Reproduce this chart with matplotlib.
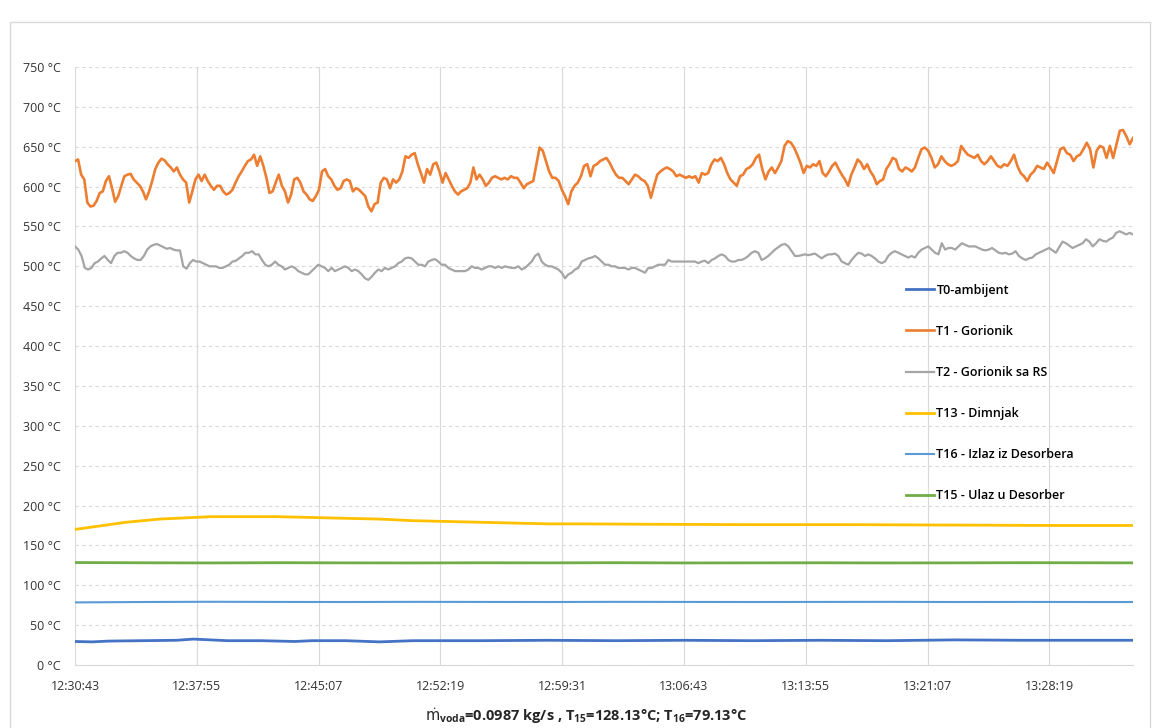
import numpy as np
import matplotlib
matplotlib.use("Agg")
from matplotlib import pyplot as plt
from matplotlib.patches import Rectangle

plt.rcParams['font.family'] = ['Open Sans', 'DejaVu Sans']
plt.rcParams['mathtext.default'] = 'regular'

# x axis: minutes after 12:30:43
tick_min = [0, 7.2, 14.4, 21.6, 28.8, 36.0, 43.2, 50.4, 57.6]
tick_labels = ["12:30:43", "12:37:55", "12:45:07", "12:52:19", "12:59:31",
               "13:06:43", "13:13:55", "13:21:07", "13:28:19"]
t_end = 62.54
# time borders of the read-off segments of the noisy series
seg_bounds = [0, 12.41, 24.83, 37.24, 49.65, 62.54]

# T1 - Gorionik, read in five pieces
t1_parts = [
    [632, 634, 615, 609, 580, 575, 576, 582, 592, 594, 607, 613, 598, 581, 588, 601, 613, 615,
     616, 609, 605, 601, 594, 584, 594, 607, 622, 630, 635, 633, 628, 624, 619, 624, 615, 609,
     605, 580, 594, 609, 615, 607, 615, 607, 601, 596, 601, 601, 594, 590, 592, 596, 605, 613,
     619, 626, 632, 634, 640, 626, 638, 626, 611, 592, 594, 605, 615, 601],
    [594, 580, 590, 609, 611, 605, 594, 590, 584, 582, 588, 596, 619, 622, 613, 609, 601, 596,
     598, 607, 609, 607, 594, 598, 596, 592, 588, 575, 569, 578, 580, 605, 611, 609, 598, 609,
     605, 609, 619, 638, 636, 640, 642, 628, 617, 605, 622, 615, 628, 630, 619, 605, 617, 609,
     601, 594, 590, 594, 596, 598, 605, 624, 609, 615, 609, 601, 605, 611],
    [613, 611, 609, 611, 609, 613, 611, 611, 605, 598, 603, 605, 607, 628, 649, 645, 632, 619,
     611, 611, 607, 596, 588, 578, 594, 601, 605, 613, 626, 628, 613, 626, 628, 632, 634, 636,
     630, 622, 615, 611, 611, 607, 603, 609, 615, 613, 609, 607, 601, 586, 601, 615, 619, 622,
     624, 622, 619, 613, 615, 613, 611, 613, 611, 613, 605, 617],
    [615, 617, 628, 634, 632, 636, 628, 617, 609, 605, 601, 613, 615, 622, 624, 628, 636, 640,
     622, 609, 619, 624, 617, 624, 632, 651, 657, 655, 649, 640, 630, 617, 626, 624, 628, 626,
     632, 617, 613, 619, 626, 630, 622, 615, 609, 601, 615, 624, 634, 630, 622, 628, 619, 613,
     603, 607, 609, 622, 628, 636, 634, 622, 619, 624, 622, 619],
    [624, 636, 647, 649, 645, 636, 624, 628, 638, 632, 628, 626, 628, 632, 651, 645, 640, 638,
     636, 640, 632, 628, 632, 638, 632, 626, 624, 628, 626, 632, 640, 626, 617, 613, 607, 615,
     619, 626, 624, 622, 630, 624, 617, 632, 647, 649, 642, 640, 632, 638, 640, 647, 655, 647,
     624, 645, 651, 649, 636, 651, 636, 653, 670, 671, 663, 653, 661],
]

# T2 - Gorionik sa RS
t2_parts = [
    [525, 521, 513, 498, 496, 498, 504, 506, 510, 513, 508, 504, 513, 517, 517, 519, 517, 513,
     510, 508, 508, 513, 521, 525, 527, 528, 526, 524, 522, 523, 521, 520, 520, 500, 497, 504,
     508, 506, 506, 504, 502, 500, 500, 500, 498, 498, 500, 502, 506, 507, 510, 513, 517, 517,
     519, 515, 515, 508, 502, 500, 502, 506, 502, 500],
    [496, 498, 500, 498, 494, 492, 490, 490, 494, 498, 502, 500, 498, 494, 498, 494, 496, 498,
     500, 498, 494, 496, 494, 490, 485, 483, 487, 492, 496, 494, 498, 496, 498, 500, 504, 506,
     510, 511, 510, 506, 502, 502, 500, 506, 508, 509, 506, 502, 502, 498, 496, 494, 494, 494,
     494, 496, 500, 498, 498, 496, 498, 500, 500],
    [498, 500, 498, 500, 499, 498, 498, 500, 496, 498, 502, 506, 513, 516, 506, 502, 500, 500,
     498, 496, 492, 485, 490, 492, 496, 498, 506, 508, 510, 511, 513, 510, 506, 502, 502, 500,
     500, 498, 498, 498, 496, 498, 498, 496, 494, 492, 498, 498, 500, 502, 502, 502, 508, 506,
     506, 506, 506, 506, 506, 506, 506, 504, 506],
    [507, 504, 508, 510, 513, 515, 513, 508, 506, 506, 508, 508, 510, 513, 517, 519, 517, 508,
     510, 513, 517, 521, 524, 527, 528, 525, 519, 513, 513, 514, 515, 514, 515, 516, 513, 510,
     513, 515, 515, 516, 513, 506, 504, 502, 508, 513, 517, 516, 513, 515, 513, 510, 506, 504,
     506, 513, 517, 519, 517, 515, 513, 511, 513],
    [511, 517, 521, 523, 525, 521, 517, 515, 529, 521, 523, 523, 521, 525, 529, 527, 525, 525,
     525, 523, 521, 520, 521, 523, 520, 517, 516, 517, 515, 516, 519, 513, 510, 508, 510, 511,
     515, 517, 519, 521, 523, 520, 517, 524, 531, 529, 526, 523, 525, 527, 529, 534, 531, 525,
     529, 534, 532, 531, 534, 536, 542, 544, 542, 540, 542, 540],
]

# T13 - Dimnjak
t13_min = [0, 1, 2, 3, 4, 5, 6, 7, 8, 10, 12, 14, 16, 18, 20, 22, 24, 26, 28, 30, 34,
           40, 46, 52, 58, 62.54]
t13_val = [170, 173, 176, 179, 181, 183, 184, 185, 186, 186, 186, 185, 184, 183, 181, 180,
           179, 178, 177, 177, 176.5, 176, 176, 175.5, 175, 175]

# T15 - Ulaz u Desorber, T16 - Izlaz iz Desorbera, T0 - ambijent
flat_min = [0, 4, 8, 12, 16, 20, 24, 28, 32, 36, 40, 44, 48, 52, 56, 60, 62.54]
t15_val = [128.5, 128.2, 128.0, 128.3, 128.1, 128.0, 128.2, 128.1, 128.3, 128.0, 128.1,
           128.2, 128.0, 128.1, 128.3, 128.2, 128.1]
t16_val = [78.5, 79.0, 79.3, 79.1, 79.0, 79.2, 79.1, 79.0, 79.2, 79.1, 79.0, 79.1, 79.2,
           79.0, 79.1, 79.0, 79.0]
t0_min = [0, 1, 2, 4, 6, 7, 8, 9, 11, 13, 14, 16, 18, 20, 24, 28, 32, 36, 40, 44, 48,
          52, 56, 60, 62.54]
t0_val = [29.5, 29.0, 30.0, 30.5, 31.0, 32.5, 31.5, 30.5, 30.5, 29.5, 30.5, 30.5, 29.0,
          30.5, 30.5, 31.0, 30.5, 31.0, 30.5, 31.0, 30.5, 31.5, 31.0, 31.0, 31.0]


def join_parts(parts, bounds):
    tt, vv = [], []
    for i, p in enumerate(parts):
        last = i == len(parts) - 1
        tt.append(np.linspace(bounds[i], bounds[i + 1], len(p), endpoint=last))
        vv.append(np.array(p, dtype=float))
    return np.concatenate(tt), np.concatenate(vv)


t1_t, t1_v = join_parts(t1_parts, seg_bounds)
t2_t, t2_v = join_parts(t2_parts, seg_bounds)

fig = plt.figure(figsize=(11.6, 7.28), dpi=100)
ax = fig.add_axes([75 / 1160, 1 - 665 / 728, 1058 / 1160, 598 / 728])

# outer frame like the excel chart area
fig.patches.append(Rectangle((10 / 1160, -0.05), 1140 / 1160, 1.05 - 22 / 728,
                             transform=fig.transFigure, fill=False,
                             edgecolor="#d9d9d9", lw=1))

ax.plot(t0_min, t0_val, color="#4472C4", lw=2.0, label="T0-ambijent")
ax.plot(t1_t, t1_v, color="#ED7D31", lw=1.9, label="T1 - Gorionik")
ax.plot(t2_t, t2_v, color="#A5A5A5", lw=1.6, label="T2 - Gorionik sa RS")
ax.plot(t13_min, t13_val, color="#FFC000", lw=2.0, label="T13 - Dimnjak")
ax.plot(flat_min, t16_val, color="#5B9BD5", lw=1.5, label="T16 - Izlaz iz Desorbera")
ax.plot(flat_min, t15_val, color="#70AD47", lw=2.0, label="T15 - Ulaz u Desorber")

ax.set_xlim(0, t_end)
ax.set_ylim(0, 750)
ax.set_yticks(range(0, 751, 50))
ax.set_yticklabels([f"{v} °C" for v in range(0, 751, 50)])
ax.set_xticks(tick_min)
ax.set_xticklabels(tick_labels)
ax.tick_params(length=0, labelsize=9, colors="#333333")
ax.tick_params(axis="x", pad=11)
ax.tick_params(axis="y", pad=10)

ax.grid(axis="y", color="#d9d9d9", ls=(0, (3, 3)), lw=0.8)
ax.grid(axis="x", color="#d9d9d9", ls="-", lw=0.8)
ax.set_axisbelow(True)
for s in ["top", "right", "left"]:
    ax.spines[s].set_visible(False)
ax.spines["bottom"].set_color("#d9d9d9")

fig.text(586 / 1160, 1 - 716 / 728,
         r"$\dot{\mathrm{m}}_{voda}$=0.0987 kg/s , T$_{15}$=128.13°C; T$_{16}$=79.13°C",
         ha="center", va="center", fontsize=10.5, fontweight="bold", color="#262626")

ax.legend(loc="upper left", bbox_to_anchor=(0.78, 0.648), frameon=False,
          labelspacing=2.25, handlelength=2.2, handletextpad=0.2,
          borderpad=0, prop={"weight": "semibold", "size": 9})

fig.savefig("out.png", dpi=100)
